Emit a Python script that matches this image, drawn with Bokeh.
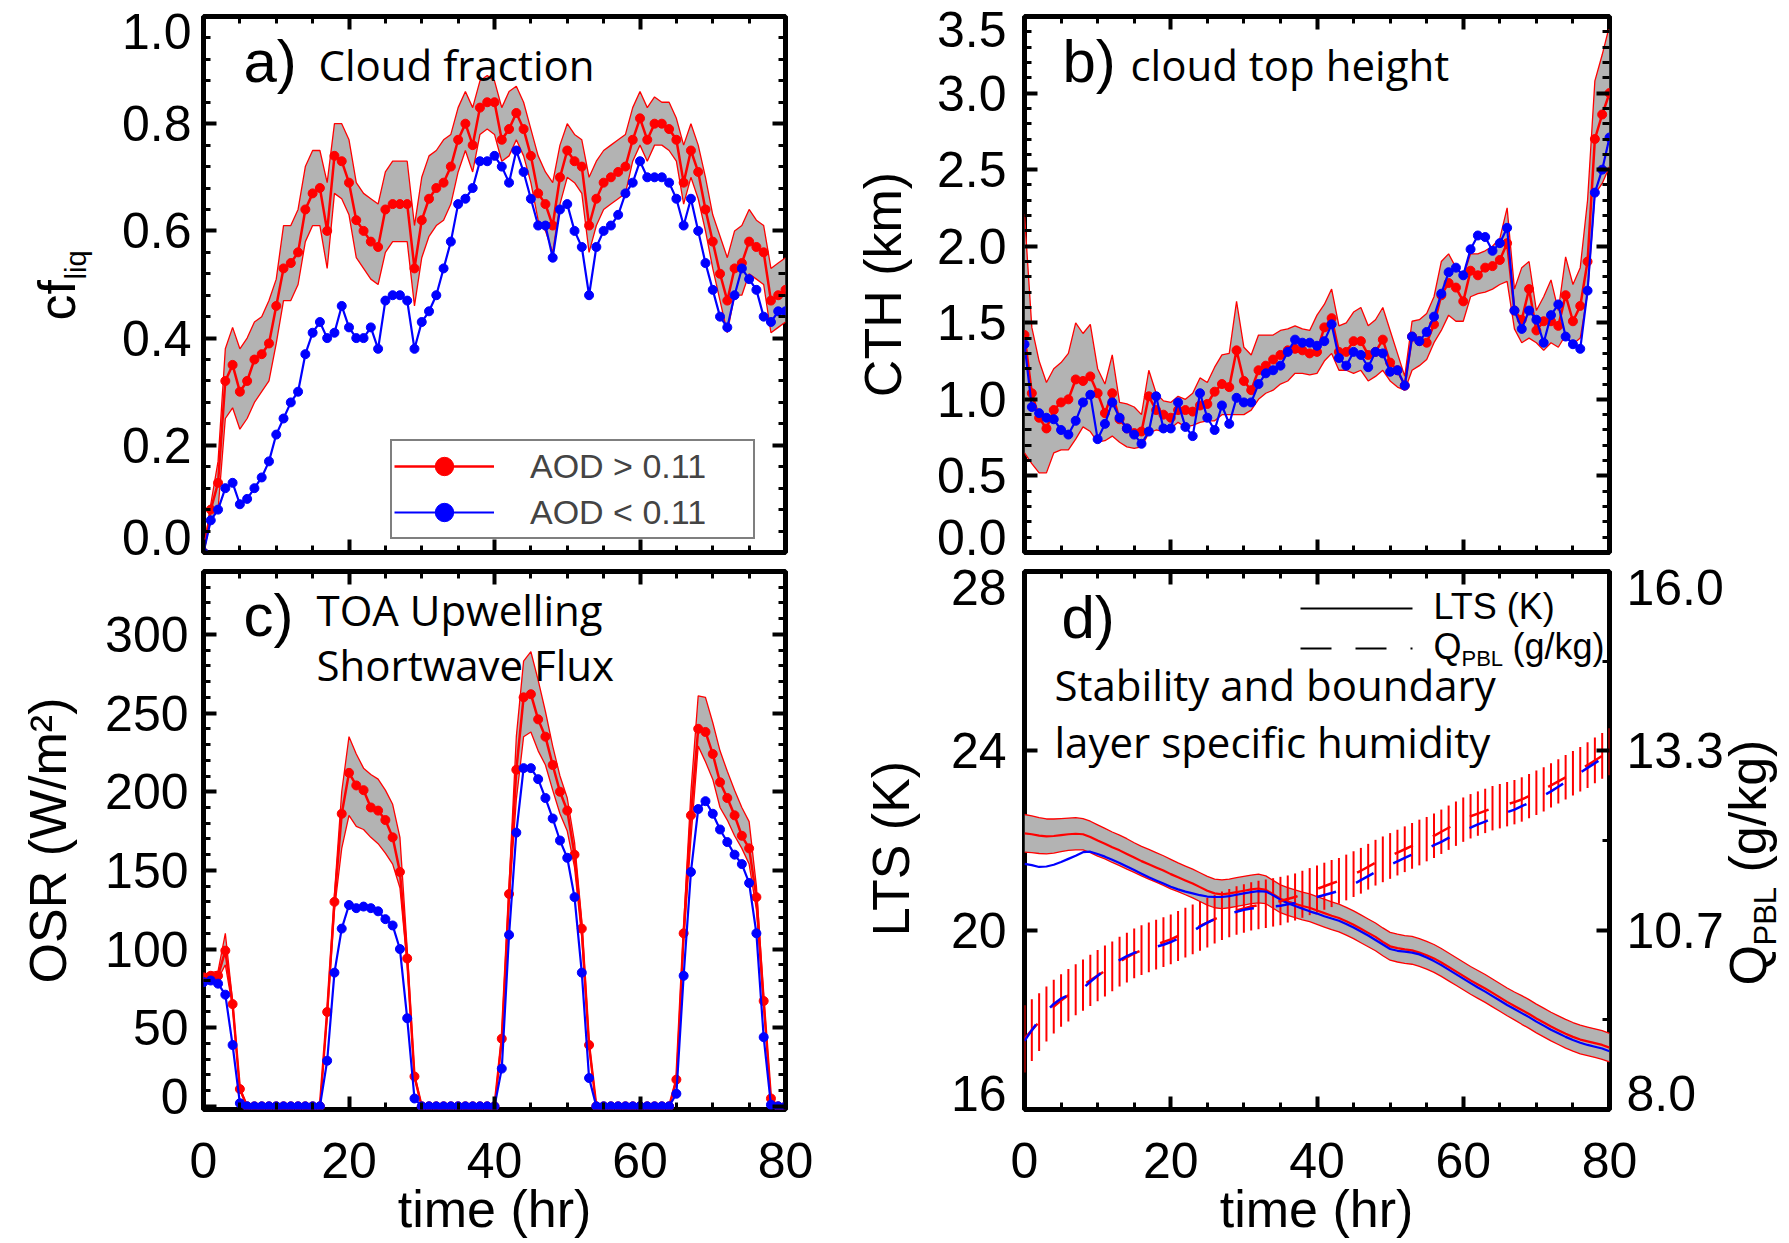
from math import pi

from bokeh.embed import file_html
from bokeh.models import (Arrow, FixedTicker, GridBox, Label, Legend, LegendItem,
                          LinearAxis, Range1d)
from bokeh.plotting import figure
from bokeh.resources import INLINE

# ---------------------------------------------------------------- data
hours = list(range(81))
x_ticks = [0, 20, 40, 60, 80]
x_tick_labels = ["0", "20", "40", "60", "80"]

# a) liquid cloud fraction
cf_high = [0.00, 0.08, 0.13, 0.32, 0.35, 0.30, 0.32, 0.36, 0.37, 0.39,
           0.46, 0.53, 0.54, 0.56, 0.64, 0.67, 0.68, 0.60, 0.74, 0.73,
           0.69, 0.62, 0.60, 0.58, 0.57, 0.64, 0.65, 0.65, 0.65, 0.53,
           0.62, 0.66, 0.68, 0.69, 0.72, 0.77, 0.80, 0.76, 0.83, 0.84,
           0.84, 0.77, 0.79, 0.82, 0.79, 0.74, 0.67, 0.65, 0.61, 0.70,
           0.75, 0.73, 0.72, 0.61, 0.66, 0.69, 0.70, 0.71, 0.72, 0.77,
           0.81, 0.77, 0.80, 0.80, 0.79, 0.77, 0.69, 0.75, 0.71, 0.64,
           0.58, 0.52, 0.47, 0.53, 0.54, 0.58, 0.57, 0.56, 0.47, 0.48, 0.49]
cf_high_upper = [0.00, 0.09, 0.17, 0.38, 0.42, 0.38, 0.40, 0.43, 0.44, 0.47,
                 0.51, 0.61, 0.61, 0.64, 0.72, 0.75, 0.75, 0.69, 0.80, 0.80,
                 0.77, 0.69, 0.67, 0.66, 0.65, 0.71, 0.73, 0.73, 0.73, 0.61,
                 0.70, 0.74, 0.75, 0.77, 0.78, 0.83, 0.86, 0.83, 0.88, 0.89,
                 0.88, 0.83, 0.86, 0.87, 0.84, 0.79, 0.74, 0.71, 0.69, 0.76,
                 0.80, 0.78, 0.77, 0.70, 0.73, 0.75, 0.76, 0.77, 0.78, 0.83,
                 0.86, 0.83, 0.85, 0.84, 0.84, 0.81, 0.76, 0.80, 0.76, 0.70,
                 0.63, 0.59, 0.55, 0.60, 0.61, 0.64, 0.62, 0.61, 0.53, 0.54, 0.55]
cf_high_lower = [0.00, 0.06, 0.08, 0.25, 0.27, 0.23, 0.25, 0.28, 0.30, 0.32,
                 0.39, 0.47, 0.47, 0.50, 0.58, 0.61, 0.61, 0.53, 0.67, 0.66,
                 0.63, 0.55, 0.53, 0.51, 0.50, 0.56, 0.58, 0.58, 0.58, 0.46,
                 0.55, 0.59, 0.61, 0.62, 0.65, 0.71, 0.75, 0.71, 0.78, 0.79,
                 0.78, 0.73, 0.74, 0.77, 0.74, 0.69, 0.62, 0.60, 0.56, 0.65,
                 0.70, 0.69, 0.67, 0.56, 0.61, 0.64, 0.65, 0.66, 0.67, 0.73,
                 0.76, 0.73, 0.76, 0.76, 0.75, 0.73, 0.65, 0.70, 0.66, 0.60,
                 0.53, 0.47, 0.41, 0.48, 0.48, 0.52, 0.51, 0.50, 0.41, 0.42, 0.43]
cf_low = [0.00, 0.06, 0.08, 0.12, 0.13, 0.09, 0.10, 0.12, 0.14, 0.17,
          0.22, 0.25, 0.28, 0.30, 0.37, 0.41, 0.43, 0.40, 0.41, 0.46,
          0.42, 0.40, 0.40, 0.42, 0.38, 0.47, 0.48, 0.48, 0.47, 0.38,
          0.43, 0.45, 0.48, 0.53, 0.58, 0.65, 0.66, 0.68, 0.73, 0.73,
          0.74, 0.72, 0.69, 0.75, 0.71, 0.66, 0.61, 0.61, 0.55, 0.64,
          0.65, 0.60, 0.57, 0.48, 0.57, 0.60, 0.61, 0.63, 0.67, 0.69,
          0.73, 0.70, 0.70, 0.70, 0.69, 0.66, 0.61, 0.66, 0.60, 0.54,
          0.49, 0.44, 0.42, 0.48, 0.53, 0.51, 0.49, 0.44, 0.43, 0.45, 0.45]
cf_ticks = [0.0, 0.2, 0.4, 0.6, 0.8, 1.0]
cf_tick_labels = ["0.0", "0.2", "0.4", "0.6", "0.8", "1.0"]

# b) cloud top height (km)
cth_high = [1.42, 1.04, 0.88, 0.81, 0.93, 0.98, 1.00, 1.13, 1.12, 1.15,
            1.04, 0.91, 1.04, 0.87, 0.81, 0.78, 0.79, 1.02, 0.93, 0.90,
            0.88, 0.93, 0.93, 0.92, 0.96, 0.97, 1.05, 1.10, 1.08, 1.32,
            1.12, 1.06, 1.19, 1.22, 1.26, 1.29, 1.32, 1.33, 1.32, 1.30,
            1.31, 1.47, 1.53, 1.31, 1.31, 1.38, 1.38, 1.29, 1.31, 1.39,
            1.24, 1.19, 1.09, 1.41, 1.38, 1.37, 1.49, 1.68, 1.76, 1.73,
            1.64, 1.84, 1.81, 1.86, 1.87, 1.91, 2.02, 1.58, 1.52, 1.72,
            1.45, 1.51, 1.51, 1.48, 1.68, 1.51, 1.61, 1.90, 2.70, 2.86, 3.00]
cth_high_upper = [2.21, 1.47, 1.25, 1.11, 1.20, 1.24, 1.30, 1.50, 1.43, 1.49,
                  1.20, 1.10, 1.29, 0.98, 0.97, 0.95, 0.90, 1.19, 1.04, 0.99,
                  0.98, 1.02, 1.00, 1.04, 1.14, 1.11, 1.21, 1.29, 1.30, 1.64,
                  1.34, 1.29, 1.42, 1.42, 1.42, 1.45, 1.46, 1.48, 1.46, 1.45,
                  1.55, 1.62, 1.72, 1.48, 1.50, 1.57, 1.60, 1.48, 1.52, 1.60,
                  1.45, 1.30, 1.15, 1.51, 1.52, 1.56, 1.67, 1.90, 1.95, 1.86,
                  1.80, 1.95, 1.95, 1.97, 2.00, 2.05, 2.25, 1.72, 1.86, 1.90,
                  1.58, 1.67, 1.78, 1.58, 1.93, 1.75, 1.86, 2.30, 3.08, 3.25, 3.44]
cth_high_lower = [0.65, 0.58, 0.52, 0.52, 0.65, 0.67, 0.67, 0.74, 0.82, 0.79,
                  0.72, 0.73, 0.76, 0.72, 0.69, 0.68, 0.69, 0.78, 0.80, 0.79,
                  0.81, 0.85, 0.82, 0.83, 0.85, 0.86, 0.86, 0.90, 0.90, 0.90,
                  0.90, 0.93, 1.00, 1.04, 1.06, 1.10, 1.12, 1.17, 1.17, 1.16,
                  1.17, 1.25, 1.30, 1.19, 1.19, 1.17, 1.19, 1.12, 1.15, 1.19,
                  1.12, 1.08, 1.06, 1.19, 1.22, 1.26, 1.37, 1.45, 1.55, 1.51,
                  1.51, 1.67, 1.69, 1.70, 1.72, 1.75, 1.77, 1.46, 1.37, 1.40,
                  1.37, 1.32, 1.37, 1.34, 1.42, 1.36, 1.40, 1.69, 2.34, 2.41, 2.52]
cth_low = [1.36, 0.95, 0.91, 0.88, 0.87, 0.80, 0.77, 0.86, 0.98, 1.03,
           0.74, 0.84, 0.98, 0.88, 0.81, 0.77, 0.71, 0.79, 1.02, 0.81,
           0.81, 0.98, 0.82, 0.76, 1.04, 0.88, 0.80, 0.96, 0.84, 1.01,
           0.98, 0.98, 1.10, 1.17, 1.19, 1.22, 1.31, 1.39, 1.37, 1.37,
           1.35, 1.38, 1.49, 1.27, 1.22, 1.31, 1.29, 1.21, 1.31, 1.30,
           1.18, 1.19, 1.09, 1.41, 1.38, 1.44, 1.54, 1.69, 1.83, 1.86,
           1.81, 1.98, 2.07, 2.06, 1.97, 2.02, 2.12, 1.58, 1.46, 1.58,
           1.52, 1.37, 1.55, 1.62, 1.41, 1.36, 1.33, 1.71, 2.35, 2.50, 2.71]
cth_ticks = [0.0, 0.5, 1.0, 1.5, 2.0, 2.5, 3.0, 3.5]
cth_tick_labels = ["0.0", "0.5", "1.0", "1.5", "2.0", "2.5", "3.0", "3.5"]

# c) TOA upwelling shortwave flux (W/m2)
osr_high = [82, 83, 83, 99, 65, 11, 0, 0, 0, 0,
            0, 0, 0, 0, 0, 0, 0, 60, 130, 186,
            212, 204, 201, 190, 188, 182, 171, 149, 94, 19,
            0, 0, 0, 0, 0, 0, 0, 0, 0, 0,
            0, 43, 135, 214, 260, 262, 246, 235, 217, 200,
            188, 160, 113, 39, 0, 0, 0, 0, 0, 0,
            0, 0, 0, 0, 0, 17, 110, 185, 240, 238,
            224, 206, 196, 185, 172, 164, 133, 67, 5, 0, 0]
osr_high_upper = [84, 85, 86, 110, 67, 12, 0, 0, 0, 0,
                  0, 0, 0, 0, 0, 0, 0, 62, 135, 200,
                  235, 224, 215, 211, 208, 201, 192, 171, 100, 21,
                  0, 0, 0, 0, 0, 0, 0, 0, 0, 0,
                  0, 46, 140, 235, 283, 289, 271, 251, 229, 210,
                  196, 168, 118, 41, 0, 0, 0, 0, 0, 0,
                  0, 0, 0, 0, 0, 18, 115, 200, 261, 260,
                  244, 226, 213, 201, 190, 181, 140, 70, 5, 0, 0]
osr_high_lower = [81, 81, 81, 90, 63, 10, 0, 0, 0, 0,
                  0, 0, 0, 0, 0, 0, 0, 57, 125, 164,
                  185, 178, 176, 171, 167, 161, 154, 139, 90, 18,
                  0, 0, 0, 0, 0, 0, 0, 0, 0, 0,
                  0, 40, 130, 195, 235, 238, 226, 217, 201, 186,
                  175, 152, 107, 37, 0, 0, 0, 0, 0, 0,
                  0, 0, 0, 0, 0, 15, 105, 170, 229, 219,
                  208, 190, 182, 172, 164, 154, 125, 63, 4, 0, 0]
osr_low = [79, 80, 78, 71, 39, 2, 0, 0, 0, 0,
           0, 0, 0, 0, 0, 0, 0, 29, 85, 113,
           128, 126, 127, 126, 124, 119, 115, 100, 56, 5,
           0, 0, 0, 0, 0, 0, 0, 0, 0, 0,
           0, 24, 109, 174, 215, 215, 208, 196, 183, 169,
           158, 133, 85, 18, 0, 0, 0, 0, 0, 0,
           0, 0, 0, 0, 0, 8, 83, 149, 189, 194,
           186, 176, 168, 160, 154, 142, 110, 44, 1, 0, 0]
osr_ticks = [0, 50, 100, 150, 200, 250, 300]
osr_tick_labels = ["0", "50", "100", "150", "200", "250", "300"]

# d) lower tropospheric stability (K) and boundary layer humidity (g/kg)
lts_high = [22.16, 22.14, 22.11, 22.09, 22.10, 22.12, 22.14, 22.15, 22.14, 22.08,
            22.00, 21.93, 21.85, 21.78, 21.70, 21.62, 21.54, 21.47, 21.40, 21.33,
            21.25, 21.18, 21.11, 21.04, 20.96, 20.88, 20.82, 20.80, 20.82, 20.85,
            20.88, 20.91, 20.93, 20.90, 20.80, 20.70, 20.64, 20.59, 20.54, 20.50,
            20.44, 20.38, 20.32, 20.27, 20.20, 20.12, 20.03, 19.94, 19.85, 19.74,
            19.64, 19.60, 19.57, 19.55, 19.50, 19.44, 19.37, 19.28, 19.18, 19.08,
            18.98, 18.88, 18.79, 18.70, 18.60, 18.50, 18.40, 18.31, 18.22, 18.13,
            18.03, 17.94, 17.85, 17.77, 17.69, 17.62, 17.56, 17.52, 17.48, 17.44, 17.38]
lts_high_spread = [0.42, 0.41, 0.40, 0.39, 0.38, 0.37, 0.36, 0.36, 0.35, 0.35,
                   0.35, 0.34, 0.34, 0.34, 0.34, 0.33, 0.33, 0.33, 0.33, 0.33,
                   0.33, 0.32, 0.32, 0.32, 0.32, 0.32, 0.32, 0.32, 0.32, 0.32,
                   0.32, 0.32, 0.32, 0.31, 0.31, 0.31, 0.31, 0.31, 0.31, 0.31,
                   0.31, 0.31, 0.31, 0.31, 0.31, 0.31, 0.31, 0.31, 0.31, 0.31,
                   0.31, 0.31, 0.31, 0.31, 0.31, 0.31, 0.31, 0.31, 0.31, 0.31,
                   0.31, 0.31, 0.31, 0.31, 0.31, 0.31, 0.31, 0.31, 0.32, 0.32,
                   0.32, 0.32, 0.32, 0.32, 0.32, 0.32, 0.32, 0.32, 0.32, 0.32, 0.32]
lts_low = [21.48, 21.45, 21.41, 21.42, 21.46, 21.52, 21.59, 21.66, 21.74, 21.75,
           21.70, 21.64, 21.57, 21.50, 21.42, 21.34, 21.26, 21.18, 21.11, 21.04,
           20.97, 20.91, 20.86, 20.82, 20.78, 20.75, 20.74, 20.74, 20.76, 20.79,
           20.82, 20.85, 20.87, 20.86, 20.78, 20.68, 20.60, 20.54, 20.48, 20.42,
           20.37, 20.31, 20.26, 20.21, 20.14, 20.06, 19.97, 19.88, 19.78, 19.68,
           19.58, 19.54, 19.52, 19.50, 19.46, 19.39, 19.31, 19.22, 19.12, 19.02,
           18.92, 18.82, 18.72, 18.63, 18.53, 18.43, 18.33, 18.24, 18.15, 18.06,
           17.96, 17.87, 17.78, 17.70, 17.62, 17.55, 17.49, 17.44, 17.40, 17.36, 17.30]
q_high = [9.05, 9.18, 9.30, 9.42, 9.53, 9.62, 9.70, 9.78, 9.85, 9.92,
          9.99, 10.06, 10.13, 10.20, 10.26, 10.32, 10.37, 10.41, 10.45, 10.49,
          10.53, 10.58, 10.63, 10.68, 10.73, 10.78, 10.83, 10.88, 10.92, 10.96,
          10.99, 11.02, 11.04, 11.06, 11.08, 11.10, 11.13, 11.16, 11.20, 11.24,
          11.28, 11.32, 11.36, 11.40, 11.45, 11.50, 11.55, 11.61, 11.67, 11.72,
          11.77, 11.82, 11.87, 11.92, 11.97, 12.02, 12.07, 12.13, 12.19, 12.25,
          12.31, 12.36, 12.40, 12.44, 12.48, 12.51, 12.54, 12.57, 12.61, 12.66,
          12.71, 12.76, 12.82, 12.88, 12.94, 13.00, 13.06, 13.12, 13.19, 13.26, 13.32]
q_high_spread = [0.50, 0.46, 0.43, 0.41, 0.40, 0.39, 0.39, 0.38, 0.38, 0.38,
                 0.38, 0.38, 0.37, 0.37, 0.37, 0.37, 0.37, 0.37, 0.37, 0.37,
                 0.37, 0.37, 0.37, 0.37, 0.37, 0.37, 0.36, 0.36, 0.36, 0.36,
                 0.36, 0.36, 0.36, 0.36, 0.36, 0.36, 0.35, 0.35, 0.35, 0.35,
                 0.35, 0.35, 0.35, 0.34, 0.34, 0.34, 0.34, 0.34, 0.34, 0.34,
                 0.34, 0.34, 0.34, 0.34, 0.34, 0.33, 0.33, 0.33, 0.33, 0.33,
                 0.33, 0.33, 0.33, 0.33, 0.33, 0.33, 0.33, 0.33, 0.33, 0.33,
                 0.33, 0.33, 0.33, 0.33, 0.33, 0.33, 0.33, 0.34, 0.34, 0.34, 0.35]
q_low = [9.02, 9.18, 9.33, 9.46, 9.57, 9.65, 9.70, 9.73, 9.80, 9.90,
         9.99, 10.08, 10.16, 10.22, 10.28, 10.33, 10.36, 10.39, 10.42, 10.45,
         10.49, 10.54, 10.59, 10.65, 10.72, 10.78, 10.83, 10.87, 10.91, 10.94,
         10.97, 10.99, 11.00, 11.01, 11.02, 11.03, 11.05, 11.07, 11.10, 11.13,
         11.16, 11.19, 11.22, 11.25, 11.30, 11.35, 11.41, 11.47, 11.53, 11.59,
         11.64, 11.69, 11.74, 11.79, 11.84, 11.88, 11.93, 11.98, 12.04, 12.10,
         12.15, 12.19, 12.24, 12.28, 12.33, 12.38, 12.42, 12.46, 12.51, 12.56,
         12.61, 12.67, 12.73, 12.80, 12.87, 12.94, 13.01, 13.08, 13.15, 13.22, 13.29]
lts_ticks = [16, 20, 24, 28]
lts_tick_labels = ["16", "20", "24", "28"]
q_ticks = [8.0, 32 / 3, 40 / 3, 16.0]
q_tick_labels = ["8.0", "10.7", "13.3", "16.0"]

# ---------------------------------------------------------------- styling
RED = "#ff0000"
BLUE = "#0000ff"
GREY = "#b3b3b3"
NUM_FONT = "Liberation Sans"
NOTE_FONT = "Open Sans"
# distance from the baseline up to the middle of the em box, per font
MID_ABOVE_BASELINE = {NUM_FONT: 0.35, NOTE_FONT: 0.39}
TICK_PX = 50
TITLE_PX = 52
NOTE_PX = 42
TAG_PX = 60
PAGE_W, PAGE_H = 1789, 1243

# page geometry: figure origin/size, plotting frame (left, top, w, h),
# y range and the gap between frame edge and y tick labels
PANELS = {
    "a": dict(origin=(0, 0), size=(850, 562), frame=(203, 16, 582, 536), y=(0.0, 1.0), gap=12),
    "b": dict(origin=(850, 0), size=(939, 562), frame=(1024, 16, 585, 536), y=(0.0, 3.5), gap=18),
    "c": dict(origin=(0, 562), size=(850, 681), frame=(203, 571, 582, 538), y=(-2.0, 340.0), gap=15),
    "d": dict(origin=(850, 562), size=(939, 681), frame=(1024, 571, 585, 538), y=(16.0, 28.0), gap=18),
}
Q_RANGE = (8.0, 16.0)

x_minor = [v for v in range(0, 81, 5) if v % 20]


def make_fig(key):
    g = PANELS[key]
    ox, oy = g["origin"]
    w, h = g["size"]
    fl, ft, fw, fh = g["frame"]
    p = figure(width=w, height=h, x_range=Range1d(0, 80), y_range=Range1d(*g["y"]),
               min_border_left=fl - ox, min_border_right=ox + w - fl - fw,
               min_border_top=ft - oy, min_border_bottom=oy + h - ft - fh,
               output_backend="svg", toolbar_location=None, tools="")
    p.grid.visible = False
    p.outline_line_color = "black"
    p.outline_line_width = 5
    p.outline_line_alpha = 1.0
    p.background_fill_color = "white"
    p.border_fill_color = "white"
    return p


def style_axis(ax, ticks, minor):
    ax.ticker = FixedTicker(ticks=ticks, minor_ticks=minor)
    ax.major_tick_in = 13
    ax.major_tick_out = 0
    ax.minor_tick_in = 7
    ax.minor_tick_out = 0
    ax.major_tick_line_width = 4
    ax.minor_tick_line_width = 3
    ax.major_tick_line_color = "black"
    ax.minor_tick_line_color = "black"
    ax.axis_line_color = None
    ax.major_label_text_color = None
    ax.major_label_text_font_size = "1px"
    ax.major_label_standoff = 0
    ax.axis_label = None


def frame_axes(p, y_ticks, y_minor, right_range="default",
               right_ticks=None, right_minor=None):
    style_axis(p.below[0], x_ticks, x_minor)
    style_axis(p.left[0], y_ticks, y_minor)
    top = LinearAxis()
    style_axis(top, x_ticks, x_minor)
    p.add_layout(top, "above")
    right = LinearAxis(y_range_name=right_range)
    style_axis(right, right_ticks if right_ticks is not None else y_ticks,
               right_minor if right_minor is not None else y_minor)
    p.add_layout(right, "right")


def band_with_series(p, high, upper, lower, low, size=9):
    p.varea(x=hours, y1=lower, y2=upper, fill_color=GREY, fill_alpha=1.0)
    p.line(hours, upper, line_color=RED, line_width=1.3)
    p.line(hours, lower, line_color=RED, line_width=1.3)
    r_line = p.line(hours, high, line_color=RED, line_width=2.5, line_join="round")
    r_dot = p.scatter(hours, high, size=size, fill_color=RED, line_color=RED)
    b_line = p.line(hours, low, line_color=BLUE, line_width=2.2, line_join="round")
    b_dot = p.scatter(hours, low, size=size, fill_color=BLUE, line_color=BLUE)
    return (r_line, r_dot), (b_line, b_dot)


# ---------------------------------------------------------------- text layer
# A transparent figure spanning the page whose ranges are page pixels, so
# that tick labels and titles can sit outside the plotting frames.
overlay = figure(width=PAGE_W, height=PAGE_H, x_range=Range1d(0, PAGE_W),
                 y_range=Range1d(PAGE_H, 0), min_border=0,
                 x_axis_location=None, y_axis_location=None,
                 output_backend="svg", toolbar_location=None, tools="")
overlay.frame_align = False
overlay.grid.visible = False
overlay.outline_line_color = None
overlay.background_fill_color = None
overlay.border_fill_color = None


def put(X, Y, s, size, font=NUM_FONT, align="left", angle=0.0, on_baseline=True):
    """Write text at page pixels; (X, Y) is a point on the baseline unless
    on_baseline is False, in which case it is the vertical middle."""
    if on_baseline:
        k = MID_ABOVE_BASELINE[font] * size
        if angle:
            X -= k
        else:
            Y -= k
    overlay.add_layout(Label(x=X, y=Y, text=s, text_font=font,
                             text_font_size=f"{size}px", text_align=align,
                             text_baseline="middle", angle=angle, text_color="black"))


def page_y(key, v, rng=None):
    fl, ft, fw, fh = PANELS[key]["frame"]
    y0, y1 = rng if rng is not None else PANELS[key]["y"]
    return ft + fh * (y1 - v) / (y1 - y0)


def page_x(key, v):
    fl, ft, fw, fh = PANELS[key]["frame"]
    return fl + fw * v / 80.0


def y_tick_text(key, values, labels, shifts, side="left", rng=None):
    fl, ft, fw, fh = PANELS[key]["frame"]
    X = fl - PANELS[key]["gap"] if side == "left" else fl + fw + 17
    for v, s, dy in zip(values, labels, shifts):
        put(X, page_y(key, v, rng) + dy, s, TICK_PX,
            align="right" if side == "left" else "left", on_baseline=False)


def x_tick_text(key):
    fl, ft, fw, fh = PANELS[key]["frame"]
    for v, s in zip(x_ticks, x_tick_labels):
        put(page_x(key, v), ft + fh + 51, s, TICK_PX, align="center", on_baseline=False)


# ---------------------------------------------------------------- a) cloud fraction
pa = make_fig("a")
frame_axes(pa, cf_ticks, [round(k * 0.04, 2) for k in range(1, 25) if k % 5])
(hi_line, hi_dot), (lo_line, lo_dot) = band_with_series(
    pa, cf_high, cf_high_upper, cf_high_lower, cf_low)
legend = Legend(items=[LegendItem(label="AOD > 0.11", renderers=[hi_line, hi_dot]),
                       LegendItem(label="AOD < 0.11", renderers=[lo_line, lo_dot])],
                location=(187, 13), orientation="vertical",
                border_line_color="black", border_line_width=2,
                background_fill_color="white", background_fill_alpha=1.0,
                label_text_font=NUM_FONT, label_text_font_size="34px",
                glyph_width=100, glyph_height=46, label_height=46, label_width=221,
                label_standoff=36, padding=2, spacing=0, margin=0)
pa.add_layout(legend)

y_tick_text("a", cf_ticks, cf_tick_labels, [-15, 0, 0, 0, 0, 15])
put(75, 320, "cf", TITLE_PX, angle=pi / 2)
put(86, 279, "liq", 29, angle=pi / 2)
put(243, 82, "a)", TAG_PX)
put(318, 80, "Cloud fraction", NOTE_PX, font=NOTE_FONT)

# ---------------------------------------------------------------- b) cloud top height
pb = make_fig("b")
frame_axes(pb, cth_ticks, [round(k * 0.1, 1) for k in range(1, 35) if k % 5])
band_with_series(pb, cth_high, cth_high_upper, cth_high_lower, cth_low)
y_tick_text("b", cth_ticks, cth_tick_labels, [-15, 0, 0, 0, 0, 0, 0, 13])
put(901, 284, "CTH (km)", TITLE_PX, align="center", angle=pi / 2)
put(1062, 82, "b)", TAG_PX)
put(1130, 80, "cloud top height", NOTE_PX, font=NOTE_FONT)

# ---------------------------------------------------------------- c) OSR
pc = make_fig("c")
frame_axes(pc, osr_ticks, [v for v in range(10, 341, 10) if v % 50])
band_with_series(pc, osr_high, osr_high_upper, osr_high_lower, osr_low)
y_tick_text("c", osr_ticks, osr_tick_labels, [-10, 0, 0, 0, 0, 0, 0])
x_tick_text("c")
put(66, 840, "OSR (W/m\u00b2)", TITLE_PX, align="center", angle=pi / 2)
put(494, 1227, "time (hr)", TITLE_PX, align="center")
put(243, 636, "c)", TAG_PX)
put(316, 625, "TOA Upwelling", NOTE_PX, font=NOTE_FONT)
put(316, 680, "Shortwave Flux", NOTE_PX, font=NOTE_FONT)

# ---------------------------------------------------------------- d) LTS and Q_PBL
p_d = make_fig("d")
p_d.extra_y_ranges = {"q": Range1d(*Q_RANGE)}
frame_axes(p_d, lts_ticks, [], right_range="q",
           right_ticks=q_ticks, right_minor=[28 / 3, 12.0, 44 / 3])

lts_up = [m + s for m, s in zip(lts_high, lts_high_spread)]
lts_dn = [m - s for m, s in zip(lts_high, lts_high_spread)]
q_up = [m + s for m, s in zip(q_high, q_high_spread)]
q_dn = [m - s for m, s in zip(q_high, q_high_spread)]

p_d.varea(x=hours, y1=lts_dn, y2=lts_up, fill_color=GREY, fill_alpha=1.0)
p_d.line(hours, lts_up, line_color=RED, line_width=1.3)
p_d.line(hours, lts_dn, line_color=RED, line_width=1.3)
p_d.segment(x0=hours, y0=q_dn, x1=hours, y1=q_up, y_range_name="q",
            line_color=RED, line_width=2)
p_d.line(hours, lts_high, line_color=RED, line_width=2.2)
p_d.line(hours, lts_low, line_color=BLUE, line_width=2.2)
p_d.line(hours, q_high, y_range_name="q", line_color=RED, line_width=2.5, line_dash="20 22")
p_d.line(hours, q_low, y_range_name="q", line_color=BLUE, line_width=2.5, line_dash="20 22")

# line-style key
fl, ft, fw, fh = PANELS["d"]["frame"]
p_d.add_layout(Arrow(end=None, x_start=1300 - fl, y_start=ft + fh - 608,
                     x_end=1412 - fl, y_end=ft + fh - 608,
                     start_units="screen", end_units="screen",
                     line_color="black", line_width=2))
p_d.add_layout(Arrow(end=None, x_start=1300 - fl, y_start=ft + fh - 648,
                     x_end=1412 - fl, y_end=ft + fh - 648,
                     start_units="screen", end_units="screen",
                     line_color="black", line_width=2, line_dash="31 24"))

y_tick_text("d", lts_ticks, lts_tick_labels, [-16, 0, 0, 16])
y_tick_text("d", q_ticks, q_tick_labels, [-16, 0, 0, 16], side="right", rng=Q_RANGE)
x_tick_text("d")
put(909, 848, "LTS (K)", TITLE_PX, align="center", angle=pi / 2)
put(1766, 985, "Q", TITLE_PX, angle=pi / 2)
put(1776, 945, "PBL", 31, angle=pi / 2)
put(1766, 872, "(g/kg)", TITLE_PX, angle=pi / 2)
put(1316, 1227, "time (hr)", TITLE_PX, align="center")
put(1061, 638, "d)", TAG_PX)
put(1054, 700, "Stability and boundary", NOTE_PX, font=NOTE_FONT)
put(1054, 757, "layer specific humidity", NOTE_PX, font=NOTE_FONT)
put(1433, 619, "LTS (K)", 36)
put(1433, 659, "Q", 36)
put(1461, 666, "PBL", 22)
put(1512, 659, "(g/kg)", 36)

# panels in a 2x2 grid, with the text layer laid over all four cells
layout = GridBox(children=[(pa, 0, 0), (pb, 0, 1), (pc, 1, 0), (p_d, 1, 1),
                           (overlay, 0, 0, 2, 2)])
open("out.html", "w").write(file_html(layout, INLINE))
